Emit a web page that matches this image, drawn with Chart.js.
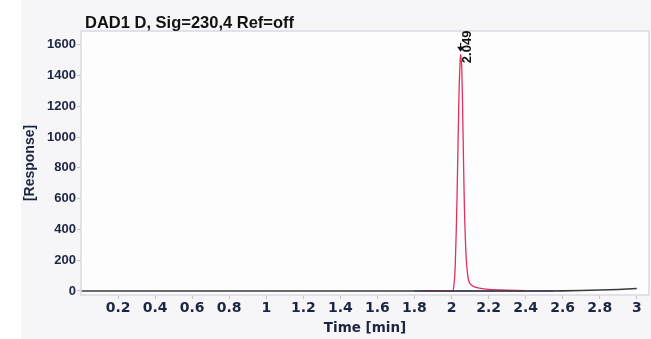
<!DOCTYPE html>
<html lang="en">
<head>
<meta charset="UTF-8">
<title>DAD1 D</title>
<script src="https://cdn.jsdelivr.net/npm/chart.js"></script>
<style>
    body { margin: 0; background: linear-gradient(to right, #ffffff 21px, #f6f6f8 21px); }
    canvas { display: block; }
</style>
</head>
<body>
<canvas id="myChart" width="651" height="339"></canvas>
<script>
    // chromatogram data (time in min, response)
    const baseTime = [0, 0.5, 1.0, 1.5, 1.8, 2.5, 2.6, 2.7, 2.8, 2.9, 3.0];
    const baseResp = [0, 0, 0, 0, 0, 0, 1, 3, 6, 10, 16];

    const peakTime = [1.84, 1.88, 1.92, 1.96, 2.00, 2.01, 2.02, 2.03, 2.04, 2.049, 2.055, 2.06, 2.065, 2.07, 2.075, 2.08, 2.09, 2.10, 2.12, 2.15, 2.20, 2.30, 2.40];
    const peakResp = [1, 3, 1, 0, 0, 8, 160, 620, 1260, 1534, 1460, 1180, 830, 520, 330, 200, 80, 48, 28, 18, 10, 5, 2];

    const blueTime = [1.80, 2.55];
    const blueResp = [0, 0];

    const peakRT = 2.049;
    const peakLabel = '2.049';

    const xTicks = [0.2, 0.4, 0.6, 0.8, 1, 1.2, 1.4, 1.6, 1.8, 2, 2.2, 2.4, 2.6, 2.8, 3];
    const xTickLabels = ['0.2', '0.4', '0.6', '0.8', '1', '1.2', '1.4', '1.6', '1.8', '2', '2.2', '2.4', '2.6', '2.8', '3'];
    const yTicks = [0, 200, 400, 600, 800, 1000, 1200, 1400, 1600];
    const yTickLabels = ['0', '200', '400', '600', '800', '1000', '1200', '1400', '1600'];

    function pontos(xs, ys) {
        return xs.map(function (x, i) { return { x: x, y: ys[i] }; });
    }

    const fonte = '"Liberation Sans", Arial, sans-serif';
    const fonteLarga = '"DejaVu Sans", Verdana, sans-serif';
    const corTexto = '#1c2541';

    const moldura = {
        id: 'moldura',
        beforeDraw: function (chart) {
            const a = chart.chartArea;
            const ctx = chart.ctx;
            ctx.save();
            ctx.fillStyle = '#fdfdfd';
            ctx.fillRect(a.left, a.top, a.right - a.left, a.bottom - a.top);
            ctx.restore();
        },
        afterDraw: function (chart) {
            const a = chart.chartArea;
            const ctx = chart.ctx;
            ctx.save();
            ctx.strokeStyle = '#d9d9e2';
            ctx.lineWidth = 1.5;
            ctx.strokeRect(a.left, a.top, a.right - a.left, a.bottom - a.top);

            // title
            ctx.fillStyle = '#111111';
            ctx.font = 'bold 16.5px ' + fonte;
            ctx.textBaseline = 'alphabetic';
            ctx.fillText('DAD1 D, Sig=230,4 Ref=off', 85, 28);

            // peak marker + retention time label
            const px = chart.scales.x.getPixelForValue(peakRT);
            const py = chart.scales.y.getPixelForValue(Math.max.apply(null, peakResp));
            ctx.fillStyle = '#111111';
            ctx.beginPath();
            ctx.moveTo(px - 3.5, py - 8);
            ctx.lineTo(px + 3.5, py - 8);
            ctx.lineTo(px, py - 3);
            ctx.closePath();
            ctx.fill();
            ctx.fillRect(px - 0.6, py - 12, 1.2, 5);

            ctx.translate(px + 7, py - 8);
            ctx.rotate(-Math.PI / 2);
            ctx.font = 'bold 13px ' + fonte;
            ctx.textAlign = 'center';
            ctx.textBaseline = 'middle';
            ctx.fillText(peakLabel, 0, 0);
            ctx.restore();
        }
    };

    const config = {
        type: 'scatter',
        data: {
            datasets: [
                {
                    label: 'baseline',
                    data: pontos(baseTime, baseResp),
                    showLine: true,
                    borderColor: '#3a3a3a',
                    borderWidth: 1.6,
                    pointRadius: 0,
                    tension: 0
                },
                {
                    label: 'sinal',
                    data: pontos(peakTime, peakResp),
                    showLine: true,
                    borderColor: '#e3305f',
                    borderWidth: 1.3,
                    pointRadius: 0,
                    tension: 0.2
                },
                {
                    label: 'base pico',
                    data: pontos(blueTime, blueResp),
                    showLine: true,
                    borderColor: '#5c5cd8',
                    borderWidth: 1.4,
                    pointRadius: 0
                }
            ]
        },
        options: {
            responsive: false,
            animation: false,
            devicePixelRatio: 1,
            layout: { padding: { left: 22, top: 31, right: 2, bottom: 0 } },
            plugins: {
                legend: { display: false },
                tooltip: { enabled: false }
            },
            scales: {
                x: {
                    type: 'linear',
                    min: 0,
                    max: 3.066,
                    afterBuildTicks: function (scale) {
                        scale.ticks = xTicks.map(function (v) { return { value: v }; });
                    },
                    afterFit: function (scale) { scale.height = 44; },
                    border: { display: false },
                    grid: { drawOnChartArea: false, drawTicks: true, tickLength: 4, color: '#c4c4ce' },
                    ticks: {
                        color: corTexto,
                        font: { family: fonteLarga, size: 14, weight: 'bold' },
                        padding: 1,
                        maxRotation: 0,
                        autoSkip: false,
                        callback: function (v) {
                            const i = xTicks.indexOf(v);
                            return i >= 0 ? xTickLabels[i] : '';
                        }
                    },
                    title: {
                        display: true,
                        text: 'Time [min]',
                        color: corTexto,
                        font: { family: fonteLarga, size: 13.5, weight: 'bold' },
                        padding: { top: 0, bottom: 2 }
                    }
                },
                y: {
                    type: 'linear',
                    min: -26,
                    max: 1689,
                    afterBuildTicks: function (scale) {
                        scale.ticks = yTicks.map(function (v) { return { value: v }; });
                    },
                    afterFit: function (scale) { scale.width = 59; },
                    border: { display: false },
                    grid: { drawOnChartArea: false, drawTicks: true, tickLength: 4, color: '#c4c4ce' },
                    ticks: {
                        color: corTexto,
                        font: { family: fonte, size: 13, weight: 'bold' },
                        padding: 1,
                        autoSkip: false,
                        callback: function (v) {
                            const i = yTicks.indexOf(v);
                            return i >= 0 ? yTickLabels[i] : '';
                        }
                    },
                    title: {
                        display: true,
                        text: '[Response]',
                        color: corTexto,
                        font: { family: fonte, size: 14, weight: 'bold' },
                        padding: 0
                    }
                }
            }
        },
        plugins: [moldura]
    };

    const grafico = new Chart(document.getElementById('myChart'), config);
</script>
</body>
</html>
